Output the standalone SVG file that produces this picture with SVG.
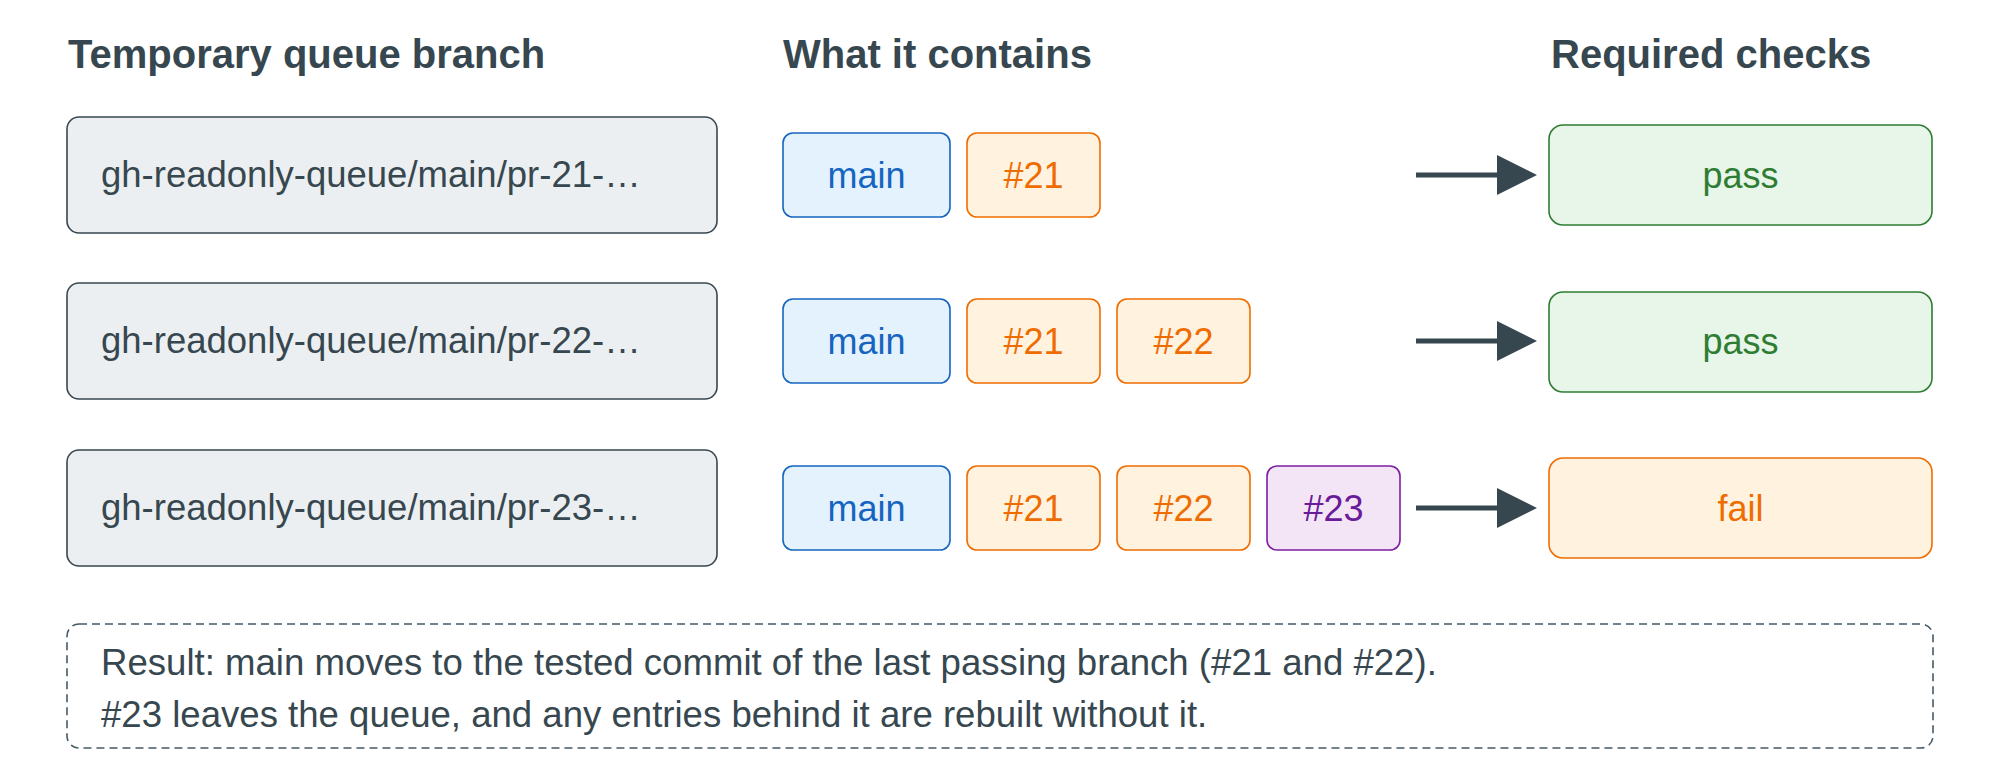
<svg xmlns="http://www.w3.org/2000/svg" width="2000" height="783" viewBox="0 0 2000 783">
  <style>
    text { font-family: "Liberation Sans", Arial, sans-serif; }
    .hdr { font-size: 40px; font-weight: bold; fill: #37474f; }
    .branch rect { fill: #eceff1; stroke: #37474f; stroke-width: 1.6; }
    .branch text { font-size: 36.5px; fill: #37474f; }
    .chip text, .check text { font-size: 36px; text-anchor: middle; }
    .main rect { fill: #e3f2fd; stroke: #1565c0; stroke-width: 1.6; }
    .main text { fill: #1565c0; }
    .pr rect { fill: #fff3e0; stroke: #ef6c00; stroke-width: 1.6; }
    .pr text { fill: #ef6c00; }
    .pr23 rect { fill: #f3e5f5; stroke: #7b1fa2; stroke-width: 1.6; }
    .pr23 text { fill: #6a1b9a; }
    .pass rect { fill: #e8f5e9; stroke: #2e7d32; stroke-width: 1.6; }
    .pass text { fill: #2e7d32; }
    .fail rect { fill: #fff3e0; stroke: #ef6c00; stroke-width: 1.6; }
    .fail text { fill: #ef6c00; }
    .conn line { stroke: #37474f; stroke-width: 5; marker-end: url(#arrow); }
    .note rect { fill: none; stroke: #455a64; stroke-width: 1.6; stroke-dasharray: 8 5; }
    .note text { font-size: 36.6px; fill: #37474f; }
  </style>
  <defs>
    <marker id="arrow" viewBox="0 0 40 40" refX="0" refY="20" markerWidth="40" markerHeight="40" markerUnits="userSpaceOnUse" orient="auto">
      <path d="M0,0 L40,20 L0,40 Z" fill="#37474f"/>
    </marker>
  </defs>

  <g id="headers">
    <text class="hdr" x="68" y="68">Temporary queue branch</text>
    <text class="hdr" x="783" y="68">What it contains</text>
    <text class="hdr" x="1551" y="68">Required checks</text>
  </g>

  <!-- Branch nodes -->
  <g id="branch-21" class="branch">
    <rect x="67" y="117" width="650" height="116" rx="12"/>
    <text x="101" y="187">gh-readonly-queue/main/pr-21-…</text>
  </g>
  <g id="branch-22" class="branch">
    <rect x="67" y="283" width="650" height="116" rx="12"/>
    <text x="101" y="353">gh-readonly-queue/main/pr-22-…</text>
  </g>
  <g id="branch-23" class="branch">
    <rect x="67" y="450" width="650" height="116" rx="12"/>
    <text x="101" y="520">gh-readonly-queue/main/pr-23-…</text>
  </g>

  <!-- Row 1 chips -->
  <g id="r1-main" class="chip main">
    <rect x="783" y="133" width="167" height="84" rx="10"/>
    <text x="866.5" y="188">main</text>
  </g>
  <g id="r1-21" class="chip pr">
    <rect x="967" y="133" width="133" height="84" rx="10"/>
    <text x="1033.5" y="188">#21</text>
  </g>

  <!-- Row 2 chips -->
  <g id="r2-main" class="chip main">
    <rect x="783" y="299" width="167" height="84" rx="10"/>
    <text x="866.5" y="354">main</text>
  </g>
  <g id="r2-21" class="chip pr">
    <rect x="967" y="299" width="133" height="84" rx="10"/>
    <text x="1033.5" y="354">#21</text>
  </g>
  <g id="r2-22" class="chip pr">
    <rect x="1117" y="299" width="133" height="84" rx="10"/>
    <text x="1183.5" y="354">#22</text>
  </g>

  <!-- Row 3 chips -->
  <g id="r3-main" class="chip main">
    <rect x="783" y="466" width="167" height="84" rx="10"/>
    <text x="866.5" y="521">main</text>
  </g>
  <g id="r3-21" class="chip pr">
    <rect x="967" y="466" width="133" height="84" rx="10"/>
    <text x="1033.5" y="521">#21</text>
  </g>
  <g id="r3-22" class="chip pr">
    <rect x="1117" y="466" width="133" height="84" rx="10"/>
    <text x="1183.5" y="521">#22</text>
  </g>
  <g id="r3-23" class="chip pr23">
    <rect x="1267" y="466" width="133" height="84" rx="10"/>
    <text x="1333.5" y="521">#23</text>
  </g>

  <!-- Check nodes -->
  <g id="check-1" class="check pass">
    <rect x="1549" y="125" width="383" height="100" rx="14"/>
    <text x="1740.5" y="188">pass</text>
  </g>
  <g id="check-2" class="check pass">
    <rect x="1549" y="292" width="383" height="100" rx="14"/>
    <text x="1740.5" y="354">pass</text>
  </g>
  <g id="check-3" class="check fail">
    <rect x="1549" y="458" width="383" height="100" rx="14"/>
    <text x="1740.5" y="521">fail</text>
  </g>

  <g id="connectors" class="conn">
    <line x1="1416" y1="175" x2="1497" y2="175"/>
    <line x1="1416" y1="341" x2="1497" y2="341"/>
    <line x1="1416" y1="508" x2="1497" y2="508"/>
  </g>

  <g id="result-note" class="note">
    <rect x="67" y="624" width="1866" height="124" rx="12"/>
    <text x="101" y="675">Result: main moves to the tested commit of the last passing branch (#21 and #22).</text>
    <text x="101" y="727">#23 leaves the queue, and any entries behind it are rebuilt without it.</text>
  </g>
</svg>
